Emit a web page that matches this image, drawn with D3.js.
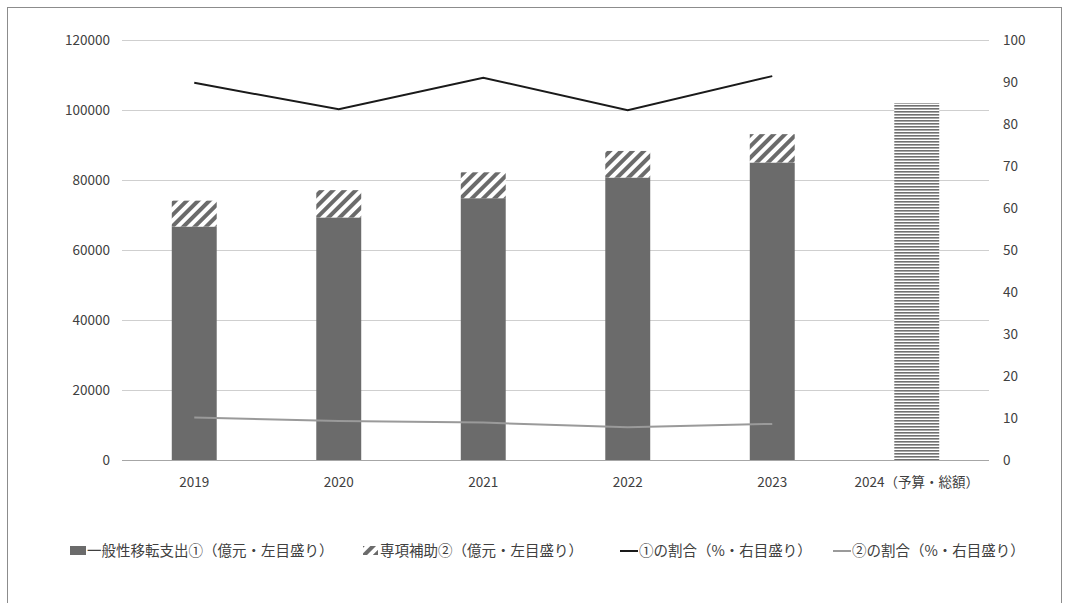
<!DOCTYPE html>
<html>
<head>
<meta charset="utf-8">
<script src="https://cdn.jsdelivr.net/npm/d3@7"></script>
<style>
  html, body { margin: 0; padding: 0; background: #fff; }
  svg { display: block; }
  text { font-family: "Noto Sans CJK JP", "Noto Sans", sans-serif; fill: #404040; }
</style>
</head>
<body>
<svg id="chart" width="1066" height="603"></svg>
<script>
// Central transfer payments to local governments (億元) and their shares (%)
const years = ["2019", "2020", "2021", "2022", "2023", "2024（予算・総額）"];
const generalTransfer = [66700, 69300, 74800, 80700, 85000, null];   // ① 一般性移転支出
const specialTransfer = [7400, 7800, 7400, 7600, 8100, null];        // ② 専項補助
const budgetTotal = [null, null, null, null, null, 102000];          // 2024 budget, total only
const share1 = [89.8, 83.5, 91.0, 83.3, 91.4];                       // ①の割合
const share2 = [10.1, 9.3, 8.9, 7.8, 8.6];                           // ②の割合
const leftTicks = [0, 20000, 40000, 60000, 80000, 100000, 120000];
const rightTicks = [0, 10, 20, 30, 40, 50, 60, 70, 80, 90, 100];
const legendLabels = [
  "一般性移転支出①（億元・左目盛り）",
  "専項補助②（億元・左目盛り）",
  "①の割合（%・右目盛り）",
  "②の割合（%・右目盛り）"
];

const svg = d3.select("#chart");
const margin = { left: 122, right: 1066 - 989, top: 40, bottom: 603 - 460 };
const W = 1066, H = 603;

// Outer frame
svg.append("rect")
  .attr("x", 7.5).attr("y", 7.5)
  .attr("width", 1054).attr("height", 620)
  .attr("fill", "none").attr("stroke", "#8c8c8c").attr("stroke-width", 1);

// Patterns
const defs = svg.append("defs");
const diag = defs.append("pattern")
  .attr("id", "diagHatch")
  .attr("patternUnits", "userSpaceOnUse")
  .attr("width", 8).attr("height", 8)
  .attr("patternTransform", "rotate(45)");
diag.append("rect").attr("width", 8).attr("height", 8).attr("fill", "#fff");
diag.append("rect").attr("x", 0).attr("width", 4).attr("height", 8).attr("fill", "#6b6b6b");

const horiz = defs.append("pattern")
  .attr("id", "horizHatch")
  .attr("patternUnits", "userSpaceOnUse")
  .attr("width", 6).attr("height", 3);
horiz.append("rect").attr("width", 6).attr("height", 3).attr("fill", "#fff");
horiz.append("rect").attr("y", 0).attr("width", 6).attr("height", 1.6).attr("fill", "#707070");

// Scales
const x = d3.scaleBand()
  .domain(years)
  .range([margin.left, W - margin.right])
  .paddingInner(0.689).paddingOuter(0.3445);
const yL = d3.scaleLinear().domain([0, 120000]).range([H - margin.bottom, margin.top]);
const yR = d3.scaleLinear().domain([0, 100]).range([H - margin.bottom, margin.top]);
const cx = d => x(d) + x.bandwidth() / 2;

// Gridlines
svg.append("g")
  .selectAll("line")
  .data(leftTicks.filter(t => t > 0))
  .join("line")
  .attr("x1", margin.left).attr("x2", W - margin.right)
  .attr("y1", d => Math.round(yL(d)) + 0.5).attr("y2", d => Math.round(yL(d)) + 0.5)
  .attr("stroke", "#cfcfcf").attr("stroke-width", 1);

// Left axis
const axisL = svg.append("g")
  .attr("transform", `translate(${margin.left},0)`)
  .call(d3.axisLeft(yL).tickValues(leftTicks).tickSize(0).tickPadding(12).tickFormat(d3.format("d")));
axisL.select(".domain").remove();
axisL.selectAll("text").attr("font-size", 13.5).style("font-family", "'Noto Sans CJK JP', sans-serif").attr("fill", "#404040");

// Right axis
const axisR = svg.append("g")
  .attr("transform", `translate(${W - margin.right},0)`)
  .call(d3.axisRight(yR).tickValues(rightTicks).tickSize(0).tickPadding(14));
axisR.select(".domain").remove();
axisR.selectAll("text").attr("font-size", 13.5).style("font-family", "'Noto Sans CJK JP', sans-serif").attr("fill", "#404040");

// Bars: general transfer (solid)
const barData = years.map((y, i) => ({ year: y, g: generalTransfer[i], s: specialTransfer[i], t: budgetTotal[i] }));
svg.append("g").selectAll("rect")
  .data(barData.filter(d => d.g != null))
  .join("rect")
  .attr("x", d => x(d.year)).attr("width", x.bandwidth())
  .attr("y", d => yL(d.g)).attr("height", d => yL(0) - yL(d.g))
  .attr("fill", "#6b6b6b");

// Bars: special transfer (diagonal hatch) stacked on top
svg.append("g").selectAll("rect")
  .data(barData.filter(d => d.s != null))
  .join("rect")
  .attr("x", d => x(d.year)).attr("width", x.bandwidth())
  .attr("y", d => yL(d.g + d.s)).attr("height", d => yL(d.g) - yL(d.g + d.s))
  .attr("fill", "url(#diagHatch)");

// Bar: 2024 budget total (horizontal hatch)
svg.append("g").selectAll("rect")
  .data(barData.filter(d => d.t != null))
  .join("rect")
  .attr("x", d => x(d.year)).attr("width", x.bandwidth())
  .attr("y", d => yL(d.t)).attr("height", d => yL(0) - yL(d.t))
  .attr("fill", "url(#horizHatch)");

// Baseline
svg.append("line")
  .attr("x1", margin.left).attr("x2", W - margin.right)
  .attr("y1", yL(0) + 0.5).attr("y2", yL(0) + 0.5)
  .attr("stroke", "#a6a6a6").attr("stroke-width", 1);

// Category labels
svg.append("g").selectAll("text")
  .data(years)
  .join("text")
  .attr("x", d => cx(d)).attr("y", yL(0) + 27)
  .attr("text-anchor", "middle").attr("font-size", 13.5)
  .text(d => d);

// Share lines
const line = d3.line().x((d, i) => cx(years[i])).y(d => yR(d));
svg.append("path").datum(share1)
  .attr("d", line).attr("fill", "none")
  .attr("stroke", "#1a1a1a").attr("stroke-width", 2).attr("stroke-linejoin", "miter");
svg.append("path").datum(share2)
  .attr("d", line).attr("fill", "none")
  .attr("stroke", "#9a9a9a").attr("stroke-width", 2);

// Legend
const ly = 551;
const lg = svg.append("g");
const legendItems = [
  { x: 70, kind: "solid", label: legendLabels[0] },
  { x: 363, kind: "hatch", label: legendLabels[1] },
  { x: 620, kind: "line", color: "#1a1a1a", label: legendLabels[2] },
  { x: 833, kind: "line", color: "#9a9a9a", label: legendLabels[3] }
];
legendItems.forEach(it => {
  if (it.kind === "solid") {
    lg.append("rect").attr("x", it.x).attr("y", ly - 5).attr("width", 16).attr("height", 9).attr("fill", "#6b6b6b");
  } else if (it.kind === "hatch") {
    lg.append("rect").attr("x", it.x).attr("y", ly - 5).attr("width", 15).attr("height", 9).attr("fill", "url(#diagHatch)");
  } else {
    lg.append("line").attr("x1", it.x).attr("x2", it.x + 18)
      .attr("y1", ly).attr("y2", ly)
      .attr("stroke", it.color).attr("stroke-width", 2);
  }
  lg.append("text")
    .attr("x", it.x + (it.kind === "line" ? 19 : 17)).attr("y", ly + 5)
    .attr("font-size", 14.5)
    .text(it.label);
});
</script>
</body>
</html>
